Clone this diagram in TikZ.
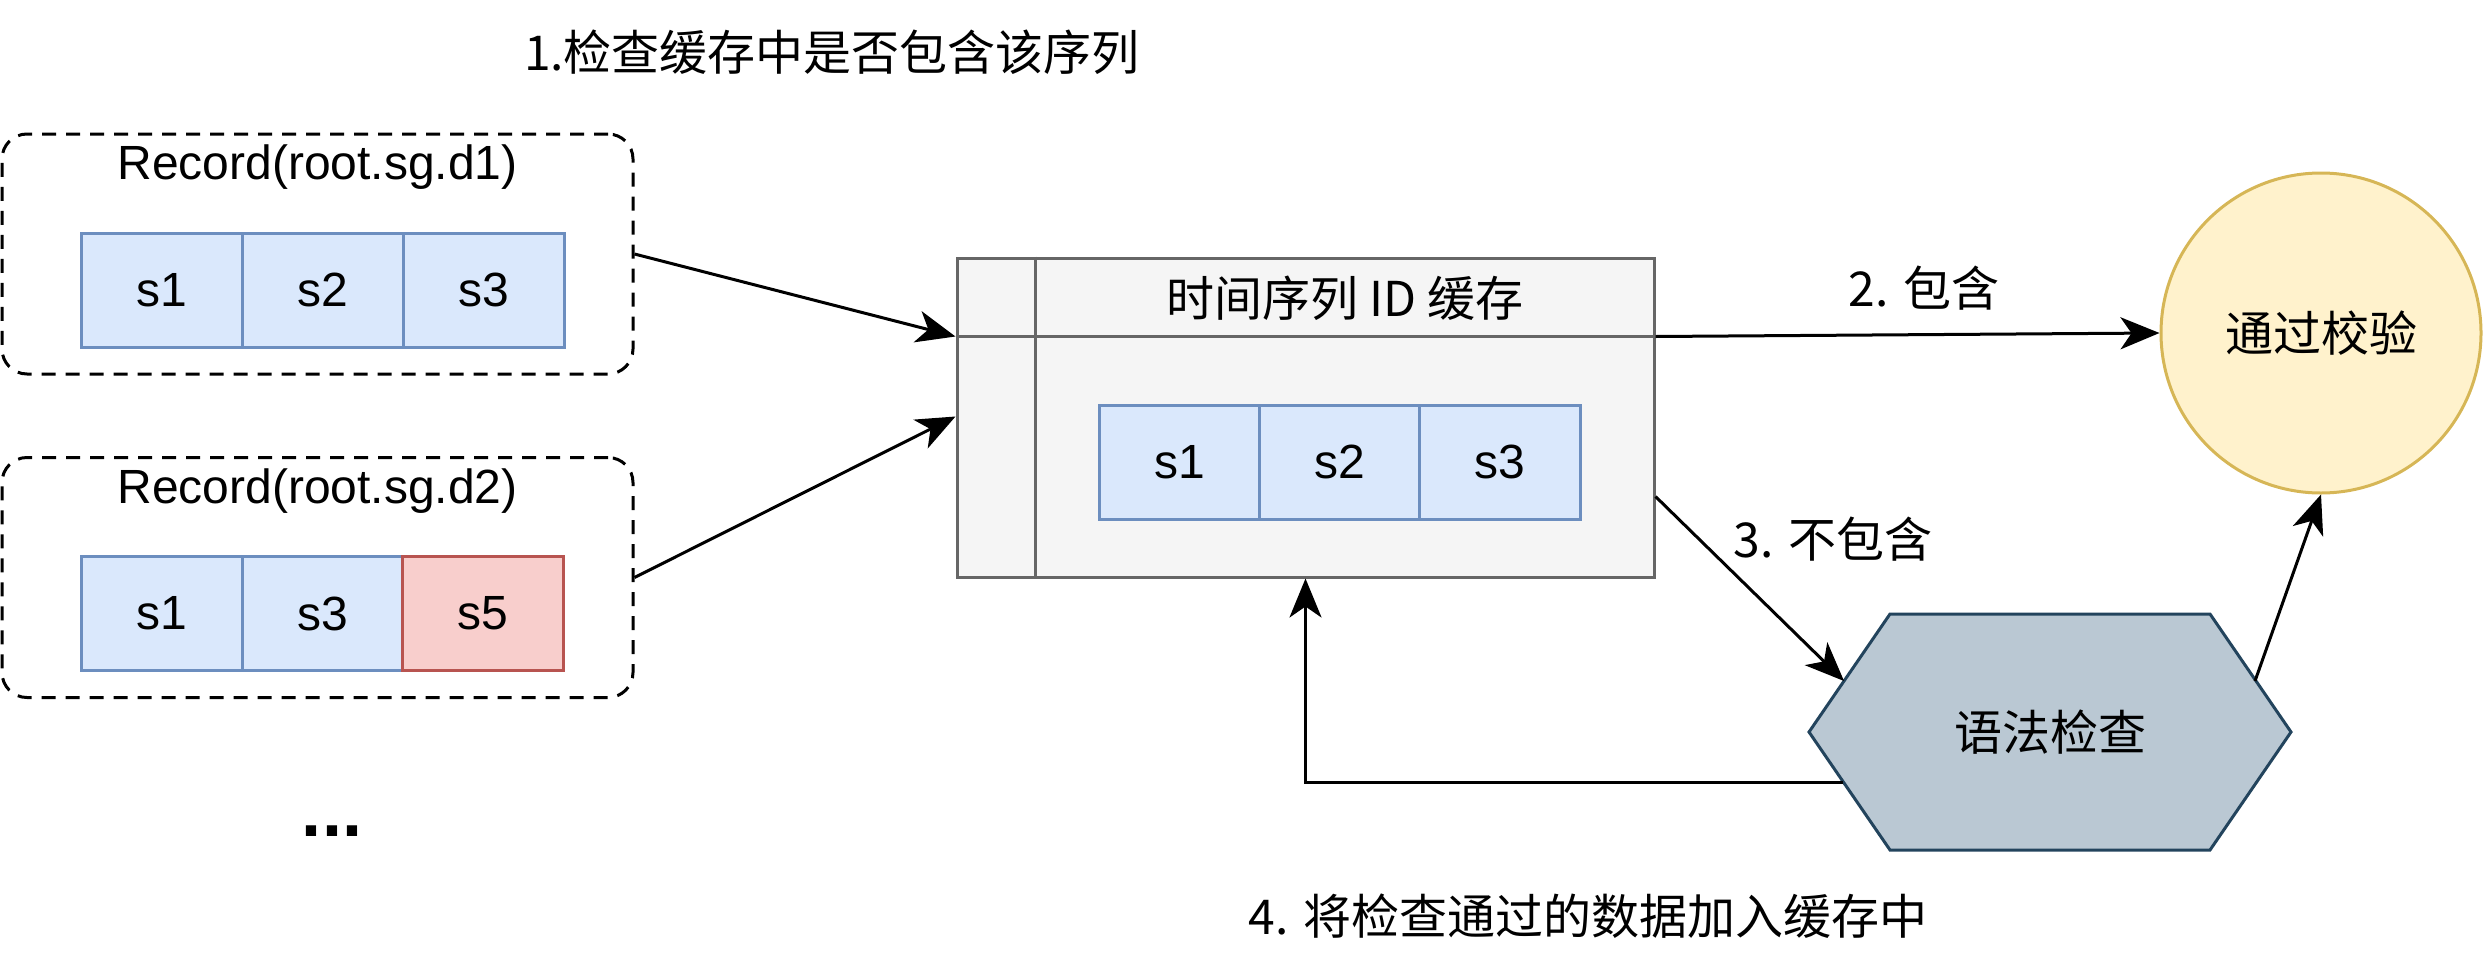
\documentclass[tikz,border=0pt]{standalone}
\usepackage{fontspec}
\setmainfont{Liberation Sans}
\newfontfamily\cjk{Noto Sans CJK SC}
\usetikzlibrary{arrows.meta,calc}
\definecolor{bfill}{HTML}{DAE8FC}
\definecolor{bline}{HTML}{6C8EBF}
\definecolor{rfill}{HTML}{F8CECC}
\definecolor{rline}{HTML}{B85450}
\definecolor{gfill}{HTML}{F5F5F5}
\definecolor{gline}{HTML}{666666}
\definecolor{yfill}{HTML}{FFF2CC}
\definecolor{yline}{HTML}{D6B656}
\definecolor{hfill}{HTML}{BAC8D3}
\definecolor{hline}{HTML}{23445D}
\begin{document}
\begin{tikzpicture}[x=1pt,y=-1pt,
  txt/.style={font=\fontsize{48}{58}\selectfont, inner sep=0pt},
  cjktxt/.style={font=\fontsize{48}{58}\selectfont\cjk, inner sep=0pt},
  recbox/.style={draw, line width=3pt, dash pattern=on 14pt off 10pt, rounded corners=25pt, minimum width=631pt, minimum height=240pt, inner sep=0pt},
  bcell/.style={draw=bline, fill=bfill, line width=3pt, minimum width=161pt, minimum height=114pt, inner sep=0pt, font=\fontsize{48}{58}\selectfont},
  rcell/.style={bcell, draw=rline, fill=rfill},
  cachebox/.style={draw=gline, fill=gfill, line width=3pt, minimum width=697pt, minimum height=319pt, inner sep=0pt},
  passnode/.style={circle, draw=yline, fill=yfill, line width=3pt, minimum size=320pt, inner sep=0pt, font=\fontsize{48}{58}\selectfont\cjk},
  arr/.style={line width=3pt, -{Stealth[length=39pt, width=32pt, inset=11pt]}}
]
\useasboundingbox (0,0) rectangle (2484,972);

% title
\node[cjktxt] (title) at (832,52) {1.检查缓存中是否包含该序列};

% record 1
\node[recbox] (rec1) at (317.5,254) {};
\node[txt] (rec1t) at (317.5,167) {Record(root.sg.d1)};
\node[bcell] (r1a) at (161.5,290) {s1};
\node[bcell] (r1b) at (322.5,290) {s2};
\node[bcell] (r1c) at (483.5,290) {s3};

% record 2
\node[recbox] (rec2) at (317.5,577.5) {};
\node[txt] (rec2t) at (317.5,491) {Record(root.sg.d2)};
\node[bcell] (r2a) at (161.5,613.5) {s1};
\node[bcell] (r2b) at (322.5,613.5) {s3};
\node[rcell] (r2c) at (483,613.5) {s5};

% dots
\node[font=\fontsize{72}{80}\selectfont\bfseries, inner sep=0pt, anchor=base] (dots) at (332,836) {...};

% cache
\node[cachebox] (cache) at (1305.5,417.5) {};
\coordinate (hdrL) at ($(cache.north west)+(0,80)$);
\coordinate (hdrR) at ($(cache.north east)+(0,80)$);
\coordinate (divT) at ($(cache.north west)+(80,0)$);
\coordinate (divB) at ($(cache.south west)+(80,0)$);
\draw[gline, line width=3pt] (hdrL) -- (hdrR);
\draw[gline, line width=3pt] (divT) -- (divB);
\node[cjktxt] (cachet) at (1345,298) {时间序列 ID 缓存};
\node[bcell] (c1) at (1179.5,462) {s1};
\node[bcell] (c2) at (1340,462) {s2};
\node[bcell] (c3) at (1500,462) {s3};
\coordinate (cin2) at ($(cache.north west)+(0,160)$);
\coordinate (cout3) at ($(cache.north east)+(0,240)$);
\coordinate (cbot) at ($(cache.south west)+(350,0)$);

% pass circle
\node[passnode] (pass) at (2321,333) {通过校验};

% hexagon
\draw[draw=hline, fill=hfill, line width=3pt] (1809,732) -- (1890,614) -- (2210,614) -- (2291,732) -- (2210,850) -- (1890,850) -- cycle;
\node[cjktxt] (hex) at (2050,732) {语法检查};
\coordinate (hexA) at (1844,681);
\coordinate (hexB) at (1843,782);
\coordinate (hexC) at (2255,681);

% labels
\node[cjktxt] (lab2) at (1924,288) {2. 包含};
\node[cjktxt] (lab3) at (1833,539) {3. 不包含};
\node[cjktxt] (lab4) at (1588,916) {4. 将检查通过的数据加入缓存中};

% connectors
\draw[arr] (rec1.east) -- (hdrL);
\draw[arr] (rec2.east) -- (cin2);
\draw[arr] (hdrR) -- (pass.west);
\draw[arr] (cout3) -- (hexA);
\draw[arr] (hexC) -- (pass.south);
\draw[arr] (hexB) -| (cbot);
\end{tikzpicture}
\end{document}
